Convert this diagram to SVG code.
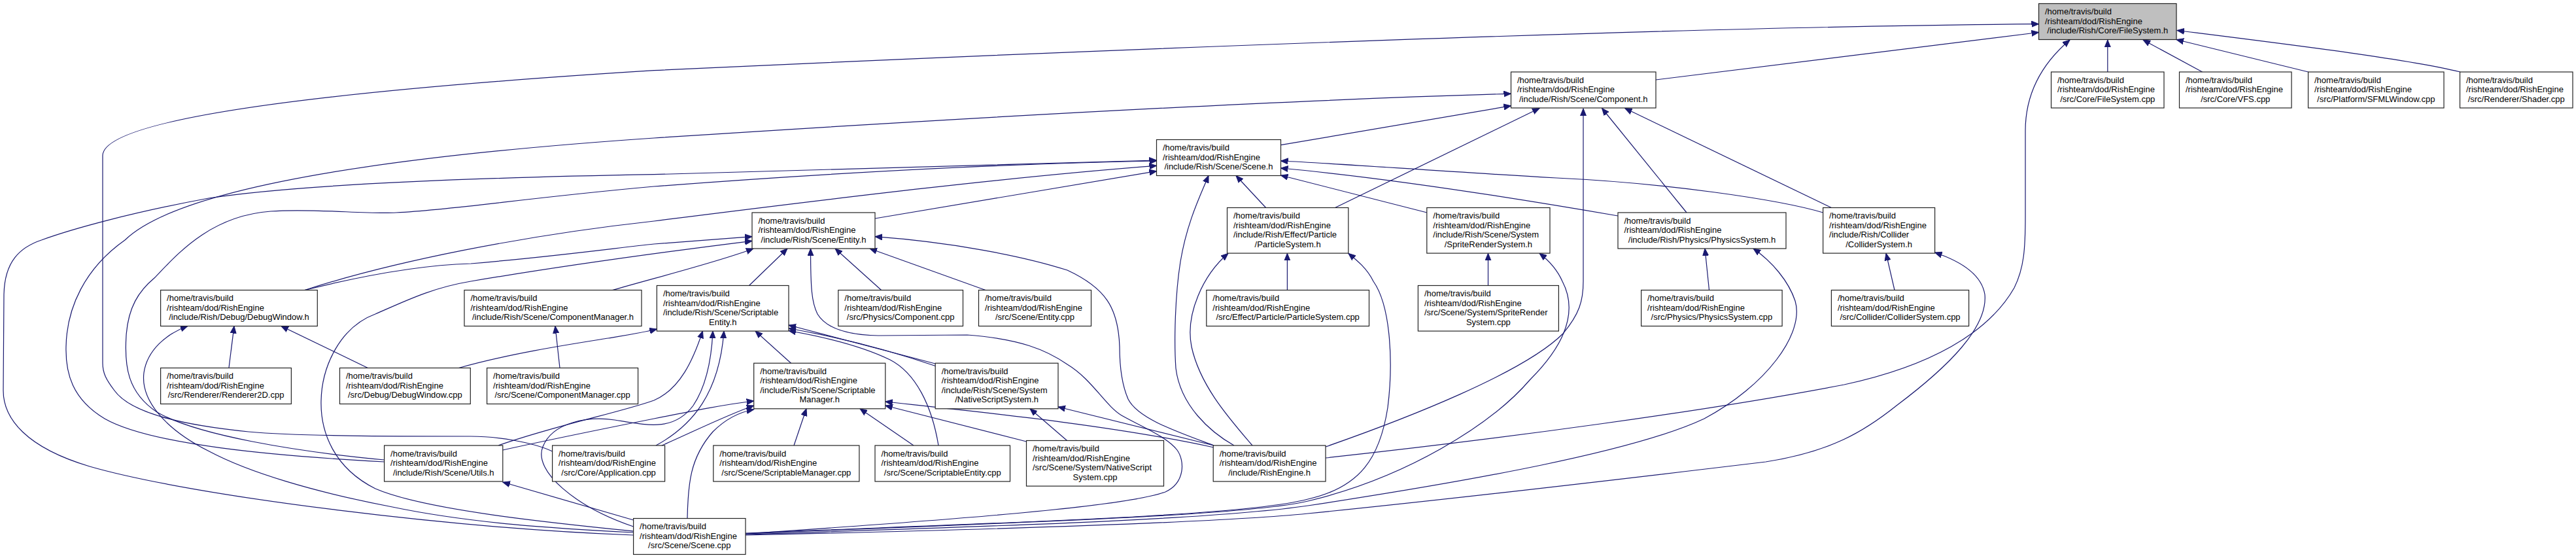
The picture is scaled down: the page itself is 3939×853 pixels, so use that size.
<svg xmlns="http://www.w3.org/2000/svg" width="3939" height="853" viewBox="0 0 3939 853">
<defs>
<marker id="ah" markerUnits="userSpaceOnUse" markerWidth="12" markerHeight="10" refX="11" refY="5" viewBox="0 0 12 10" orient="auto">
<path d="M0,0.5 L11,5 L0,9.5 Z" fill="#191970" stroke="#191970" stroke-width="1"/>
</marker>
</defs>
<style>
.n rect{fill:#fff;stroke:#222;stroke-width:1.2}
.g rect{fill:#bfbfbf}
.n text{font-family:"Liberation Sans",Arial,sans-serif;font-size:13px;fill:#000}
.n text.c{text-anchor:middle}
.e path{fill:none;stroke:#191970;stroke-width:1.2;marker-end:url(#ah)}
</style>
<rect x="0" y="0" width="3939" height="853" fill="#fff"/>
<g id="edges" class="e">
<path d="M3222.8,110 L3222.8,61"/>
<path d="M3367.6,110 L3277,61"/>
<path d="M3529.6,110 L3328,60.5"/>
<path d="M3762,110 C3680,90 3500,68 3329,46.5"/>
<path d="M2532,122 L3117.5,49.5"/>
<path d="M844.6,690 C815,676 760,667 720,667 C600,667 460,667 380,660 C280,650 200,632 175,597 C162,580 157,570 157,555 L157,238 C157,190 400,145 1000,107.7 C1700,75 2600,40 3117.5,36.7"/>
<path d="M2027,700 C2300,670 2600,630 2820,588 C2950,560 3040,510 3080,440 C3095,410 3097,380 3097,330 L3097,200 C3097,140 3125,95 3165,61"/>
<path d="M2027,683 C2150,640 2330,570 2390,510 C2415,480 2421,460 2421,430 L2421,166"/>
<path d="M1958.5,221.7 L2310.5,161.7"/>
<path d="M2041.5,317.5 L2354,165.5"/>
<path d="M2579,325 L2449.6,165.5"/>
<path d="M2800.4,317.5 L2484.7,165.5"/>
<path d="M587.6,706 C420,697 230,680 160,640 C110,610 100,570 101,530 C102,470 130,410 191,367 C260,300 500,245 1000,211 C1400,185 1900,155 2310.5,143.3"/>
<path d="M968.6,818 C700,808 300,760 137,713 C40,684 5,640 5,597 L6,450 C7,400 30,378 64,366.7 C110,350 200,325 319,303 C450,283 700,272 1000,266.7 C1300,260 1550,250 1768.5,245"/>
<path d="M587.7,703 C450,690 300,665 240,630 C195,600 190,560 193,513 C196,470 212,445 236,425 C270,390 320,330 414,323 C480,318 560,328 606,325 C700,320 800,303 1000,285 C1300,262 1550,250 1768.5,246"/>
<path d="M466,443.5 C600,400 800,360 1000,338 C1300,300 1550,270 1768.5,253.3"/>
<path d="M466,443.5 C560,420 650,405 720,403 C850,392 950,378 1000,373 L1150,361.7"/>
<path d="M968.6,812 C850,800 650,780 574,747 C510,715 490,660 491,613 C492,560 520,500 574,480 C620,460 660,440 720,430 C850,408 1000,387 1150,368.3"/>
<path d="M936.5,443.5 C1000,425 1100,400 1152,380"/>
<path d="M1145.5,436.5 L1204,380"/>
<path d="M1347.6,443.5 L1277,380"/>
<path d="M1507,443.5 L1330,380"/>
<path d="M1856,681 C1800,660 1740,640 1725,610 C1712,580 1712,545 1712,530 C1710,470 1690,440 1632,413 C1560,390 1450,370 1338,361.7"/>
<path d="M1140,816 C1450,795 1720,775 1782,752 C1812,738 1812,705 1800,688 C1785,668 1745,652 1715,635 C1690,620 1670,580 1632,557 C1600,535 1560,518 1479,512 L1343,513 C1290,512 1262,500 1250,480 C1241,462 1239.5,440 1239.5,380"/>
<path d="M1935.6,317.5 L1890,268.5"/>
<path d="M1887,681 C1850,660 1805,620 1798,563 C1795,520 1797,450 1805,400 C1815,340 1835,300 1848,268.5"/>
<path d="M1915,681 C1880,640 1835,590 1822,530 C1812,480 1840,420 1878,387.3"/>
<path d="M1968.4,443.5 L1968.4,387.3"/>
<path d="M2182,325 L1958.5,268"/>
<path d="M2474,330 C2300,300 2100,270 1958.5,257"/>
<path d="M2787.6,325 C2720,305 2550,280 2380,272 C2200,262 2050,250 1958.5,246"/>
<path d="M1338,334 L1768.5,261.7"/>
<path d="M2275.5,436.5 L2275.5,387.3"/>
<path d="M1140,816 C1500,800 1900,790 2000,766 C2150,730 2280,650 2340,580 C2400,520 2410,470 2389,430 C2380,410 2368,398 2354,387.3"/>
<path d="M2613.5,443.5 L2607,380"/>
<path d="M1140,817 C1500,805 1850,795 2000,773 C2250,735 2500,690 2606,640 C2700,590 2760,510 2745,460 C2735,430 2710,400 2681,380"/>
<path d="M2897,443.5 L2884,387.3"/>
<path d="M1140,818 C1500,810 1850,800 2000,785 C2250,760 2500,730 2700,706 C2800,690 2850,660 2900,620 C2980,560 3040,500 3035,450 C3030,420 3000,400 2958.5,386"/>
<path d="M1140,815 C1500,800 1900,790 2000,763 C2080,745 2110,700 2122,623 C2130,560 2128,470 2100,430 C2090,410 2075,398 2061.8,387.3"/>
<path d="M1856,681 L1618,622"/>
<path d="M1856,684 C1700,650 1500,630 1353.8,614"/>
<path d="M1569.5,675 L1353.8,620"/>
<path d="M1631.6,673.5 L1575,624.8"/>
<path d="M1214,681 L1233,624.8"/>
<path d="M1397,681 L1315,624.8"/>
<path d="M1209.6,555.2 L1155,506.1"/>
<path d="M1430.2,556 L1206,497"/>
<path d="M1432,560 C1350,532 1280,515 1206,502"/>
<path d="M1435,681 C1425,620 1400,570 1361,550 C1320,530 1260,515 1206,505.5"/>
<path d="M701.5,562.5 C780,540 880,525 930,517 C960,512 985,508 1004.4,503"/>
<path d="M762,681 C850,650 950,630 1000,612 C1040,595 1060,550 1074.5,506.1"/>
<path d="M968.6,805 C880,775 815,720 830,683 C845,645 900,636 940,642 C990,650 1030,660 1060,620 C1080,590 1088,550 1090,506.1"/>
<path d="M1003,681 C1060,650 1100,600 1107,506.1"/>
<path d="M768.8,688 C850,670 950,650 1000,640 C1060,628 1110,618 1152.7,613"/>
<path d="M1012,681 C1060,660 1110,635 1152.7,620"/>
<path d="M1051,792.5 C1052,740 1055,700 1090,660 C1110,640 1130,630 1152.7,626"/>
<path d="M968.6,795 L768.8,737"/>
<path d="M968.6,814 C850,808 720,800 600,775 C480,752 380,722 320,690 C250,655 215,610 220,570 C225,535 255,510 287,498.5"/>
<path d="M350,562.5 L358,498.5"/>
<path d="M562.4,562.5 L430,498.5"/>
<path d="M856,562.5 L849,498.5"/>
</g>
<g id="fs_h" class="n g"><rect x="3117.5" y="5.5" width="210.5" height="55"/><text x="3127" y="22">/home/travis/build</text><text x="3127" y="36.5">/rishteam/dod/RishEngine</text><text class="c" x="3222.75" y="51">/include/Rish/Core/FileSystem.h</text></g>
<g id="fs_cpp" class="n"><rect x="3136.5" y="110" width="172.5" height="55"/><text x="3146" y="126.5">/home/travis/build</text><text x="3146" y="141">/rishteam/dod/RishEngine</text><text class="c" x="3222.75" y="155.5">/src/Core/FileSystem.cpp</text></g>
<g id="vfs_cpp" class="n"><rect x="3332.5" y="110" width="171.5" height="55"/><text x="3342" y="126.5">/home/travis/build</text><text x="3342" y="141">/rishteam/dod/RishEngine</text><text class="c" x="3418.25" y="155.5">/src/Core/VFS.cpp</text></g>
<g id="sfml_cpp" class="n"><rect x="3529.5" y="110" width="207.5" height="55"/><text x="3539" y="126.5">/home/travis/build</text><text x="3539" y="141">/rishteam/dod/RishEngine</text><text class="c" x="3633.25" y="155.5">/src/Platform/SFMLWindow.cpp</text></g>
<g id="shader_cpp" class="n"><rect x="3761.5" y="110" width="172.5" height="55"/><text x="3771" y="126.5">/home/travis/build</text><text x="3771" y="141">/rishteam/dod/RishEngine</text><text class="c" x="3847.75" y="155.5">/src/Renderer/Shader.cpp</text></g>
<g id="component_h" class="n"><rect x="2310.5" y="110" width="221.5" height="55"/><text x="2320" y="126.5">/home/travis/build</text><text x="2320" y="141">/rishteam/dod/RishEngine</text><text class="c" x="2421.25" y="155.5">/include/Rish/Scene/Component.h</text></g>
<g id="scene_h" class="n"><rect x="1768.5" y="213.5" width="190" height="55"/><text x="1778" y="230">/home/travis/build</text><text x="1778" y="244.5">/rishteam/dod/RishEngine</text><text class="c" x="1863.5" y="259">/include/Rish/Scene/Scene.h</text></g>
<g id="entity_h" class="n"><rect x="1150" y="325" width="188" height="55"/><text x="1159.5" y="341.5">/home/travis/build</text><text x="1159.5" y="356">/rishteam/dod/RishEngine</text><text class="c" x="1244" y="370.5">/include/Rish/Scene/Entity.h</text></g>
<g id="particle_h" class="n"><rect x="1876.5" y="317.5" width="185.3" height="69.6"/><text x="1886" y="334">/home/travis/build</text><text x="1886" y="348.5">/rishteam/dod/RishEngine</text><text x="1886" y="363">/include/Rish/Effect/Particle</text><text class="c" x="1969.15" y="377.5">/ParticleSystem.h</text></g>
<g id="sprite_h" class="n"><rect x="2181.8" y="317.5" width="188.2" height="69.6"/><text x="2191.3" y="334">/home/travis/build</text><text x="2191.3" y="348.5">/rishteam/dod/RishEngine</text><text x="2191.3" y="363">/include/Rish/Scene/System</text><text class="c" x="2275.9" y="377.5">/SpriteRenderSystem.h</text></g>
<g id="physics_h" class="n"><rect x="2474" y="325" width="257" height="55"/><text x="2483.5" y="341.5">/home/travis/build</text><text x="2483.5" y="356">/rishteam/dod/RishEngine</text><text class="c" x="2602.5" y="370.5">/include/Rish/Physics/PhysicsSystem.h</text></g>
<g id="collider_h" class="n"><rect x="2787.6" y="317.5" width="171" height="69.6"/><text x="2797.1" y="334">/home/travis/build</text><text x="2797.1" y="348.5">/rishteam/dod/RishEngine</text><text x="2797.1" y="363">/include/Rish/Collider</text><text class="c" x="2873.1" y="377.5">/ColliderSystem.h</text></g>
<g id="debugwindow_h" class="n"><rect x="245.6" y="443.5" width="239.7" height="55"/><text x="255.1" y="460">/home/travis/build</text><text x="255.1" y="474.5">/rishteam/dod/RishEngine</text><text class="c" x="365.45" y="489">/include/Rish/Debug/DebugWindow.h</text></g>
<g id="componentmanager_h" class="n"><rect x="710" y="443.5" width="271" height="55"/><text x="719.5" y="460">/home/travis/build</text><text x="719.5" y="474.5">/rishteam/dod/RishEngine</text><text class="c" x="845.5" y="489">/include/Rish/Scene/ComponentManager.h</text></g>
<g id="scriptableentity_h" class="n"><rect x="1004.4" y="436.5" width="201.6" height="69.6"/><text x="1013.9" y="453">/home/travis/build</text><text x="1013.9" y="467.5">/rishteam/dod/RishEngine</text><text x="1013.9" y="482">/include/Rish/Scene/Scriptable</text><text class="c" x="1105.2" y="496.5">Entity.h</text></g>
<g id="physics_component_cpp" class="n"><rect x="1281.8" y="443.5" width="190.7" height="55"/><text x="1291.3" y="460">/home/travis/build</text><text x="1291.3" y="474.5">/rishteam/dod/RishEngine</text><text class="c" x="1377.15" y="489">/src/Physics/Component.cpp</text></g>
<g id="entity_cpp" class="n"><rect x="1496.5" y="443.5" width="172" height="55"/><text x="1506" y="460">/home/travis/build</text><text x="1506" y="474.5">/rishteam/dod/RishEngine</text><text class="c" x="1582.5" y="489">/src/Scene/Entity.cpp</text></g>
<g id="particle_cpp" class="n"><rect x="1844.8" y="443.5" width="248.7" height="55"/><text x="1854.3" y="460">/home/travis/build</text><text x="1854.3" y="474.5">/rishteam/dod/RishEngine</text><text class="c" x="1969.15" y="489">/src/Effect/Particle/ParticleSystem.cpp</text></g>
<g id="spriterender_cpp" class="n"><rect x="2168.4" y="436.5" width="215" height="69.6"/><text x="2177.9" y="453">/home/travis/build</text><text x="2177.9" y="467.5">/rishteam/dod/RishEngine</text><text x="2177.9" y="482">/src/Scene/System/SpriteRender</text><text class="c" x="2275.9" y="496.5">System.cpp</text></g>
<g id="physics_cpp" class="n"><rect x="2509.6" y="443.5" width="215.5" height="55"/><text x="2519.1" y="460">/home/travis/build</text><text x="2519.1" y="474.5">/rishteam/dod/RishEngine</text><text class="c" x="2617.35" y="489">/src/Physics/PhysicsSystem.cpp</text></g>
<g id="collider_cpp" class="n"><rect x="2800.4" y="443.5" width="210.2" height="55"/><text x="2809.9" y="460">/home/travis/build</text><text x="2809.9" y="474.5">/rishteam/dod/RishEngine</text><text class="c" x="2905.5" y="489">/src/Collider/ColliderSystem.cpp</text></g>
<g id="renderer2d_cpp" class="n"><rect x="245.6" y="562.5" width="199.8" height="55"/><text x="255.1" y="579">/home/travis/build</text><text x="255.1" y="593.5">/rishteam/dod/RishEngine</text><text class="c" x="345.5" y="608">/src/Renderer/Renderer2D.cpp</text></g>
<g id="debugwindow_cpp" class="n"><rect x="519.5" y="562.5" width="199.8" height="55"/><text x="529" y="579">/home/travis/build</text><text x="529" y="593.5">/rishteam/dod/RishEngine</text><text class="c" x="619.4" y="608">/src/Debug/DebugWindow.cpp</text></g>
<g id="componentmanager_cpp" class="n"><rect x="744.6" y="562.5" width="231" height="55"/><text x="754.1" y="579">/home/travis/build</text><text x="754.1" y="593.5">/rishteam/dod/RishEngine</text><text class="c" x="860.1" y="608">/src/Scene/ComponentManager.cpp</text></g>
<g id="scriptablemanager_h" class="n"><rect x="1152.7" y="555.2" width="201.1" height="69.6"/><text x="1162.2" y="571.7">/home/travis/build</text><text x="1162.2" y="586.2">/rishteam/dod/RishEngine</text><text x="1162.2" y="600.7">/include/Rish/Scene/Scriptable</text><text class="c" x="1253.25" y="615.2">Manager.h</text></g>
<g id="nativescript_h" class="n"><rect x="1430.2" y="555.2" width="187.8" height="69.6"/><text x="1439.7" y="571.7">/home/travis/build</text><text x="1439.7" y="586.2">/rishteam/dod/RishEngine</text><text x="1439.7" y="600.7">/include/Rish/Scene/System</text><text class="c" x="1524.1" y="615.2">/NativeScriptSystem.h</text></g>
<g id="utils_h" class="n"><rect x="587.6" y="681" width="181.2" height="55"/><text x="597.1" y="697.5">/home/travis/build</text><text x="597.1" y="712">/rishteam/dod/RishEngine</text><text class="c" x="678.2" y="726.5">/include/Rish/Scene/Utils.h</text></g>
<g id="application_cpp" class="n"><rect x="844.6" y="681" width="172" height="55"/><text x="854.1" y="697.5">/home/travis/build</text><text x="854.1" y="712">/rishteam/dod/RishEngine</text><text class="c" x="930.6" y="726.5">/src/Core/Application.cpp</text></g>
<g id="scriptablemanager_cpp" class="n"><rect x="1090.8" y="681" width="223.1" height="55"/><text x="1100.3" y="697.5">/home/travis/build</text><text x="1100.3" y="712">/rishteam/dod/RishEngine</text><text class="c" x="1202.35" y="726.5">/src/Scene/ScriptableManager.cpp</text></g>
<g id="scriptableentity_cpp" class="n"><rect x="1338" y="681" width="206.5" height="55"/><text x="1347.5" y="697.5">/home/travis/build</text><text x="1347.5" y="712">/rishteam/dod/RishEngine</text><text class="c" x="1441.25" y="726.5">/src/Scene/ScriptableEntity.cpp</text></g>
<g id="nativescript_cpp" class="n"><rect x="1569.5" y="673.5" width="210" height="69.6"/><text x="1579" y="690">/home/travis/build</text><text x="1579" y="704.5">/rishteam/dod/RishEngine</text><text x="1579" y="719">/src/Scene/System/NativeScript</text><text class="c" x="1674.5" y="733.5">System.cpp</text></g>
<g id="rishengine_h" class="n"><rect x="1855.2" y="681" width="171.8" height="55"/><text x="1864.7" y="697.5">/home/travis/build</text><text x="1864.7" y="712">/rishteam/dod/RishEngine</text><text class="c" x="1941.1" y="726.5">/include/RishEngine.h</text></g>
<g id="scene_cpp" class="n"><rect x="968.6" y="792.5" width="171.4" height="55"/><text x="978.1" y="809">/home/travis/build</text><text x="978.1" y="823.5">/rishteam/dod/RishEngine</text><text class="c" x="1054.3" y="838">/src/Scene/Scene.cpp</text></g>
</svg>
